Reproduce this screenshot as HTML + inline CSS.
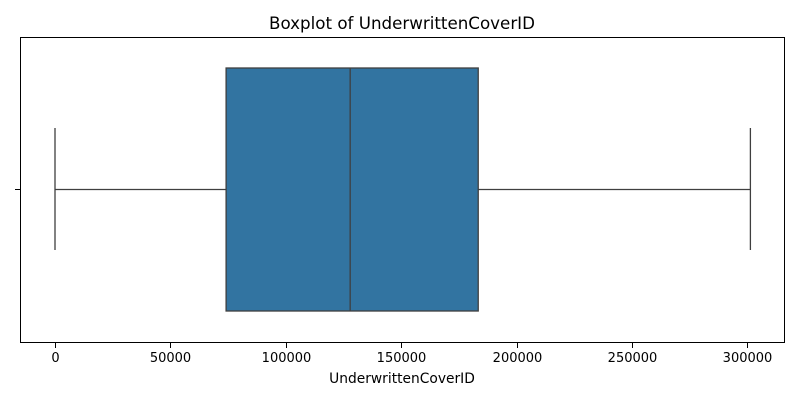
<!DOCTYPE html>
<html><head><meta charset="utf-8"><style>
body{margin:0;background:#fff;}
svg{display:block;font-family:"DejaVu Sans","Liberation Sans",sans-serif;}
</style></head><body>
<svg id="chart" width="800" height="400">
<rect width="800" height="400" fill="#fff"/>
<text x="402" y="29" font-size="16.7" text-anchor="middle">Boxplot of UnderwrittenCoverID</text>
<g id="marks"></g>
<rect x="20.5" y="37.5" width="764" height="305" fill="none" stroke="#000" stroke-width="1"/>
<line x1="15" y1="189.5" x2="20" y2="189.5" stroke="#000"/>
<g id="xaxis"></g>
<text x="402" y="383" font-size="13.8" text-anchor="middle">UnderwrittenCoverID</text>
</svg>
<script>
const stats = [0, 74130, 127890, 183380, 301300]; // min, q1, median, q3, max
const tickValues = [0, 50000, 100000, 150000, 200000, 250000, 300000];
const tickLabels = ["0", "50000", "100000", "150000", "200000", "250000", "300000"];

const ns = "http://www.w3.org/2000/svg";
function xs(v){ return 55 + v * (692.4 / 300000); }
function mk(tag, attrs, parent){
  const e = document.createElementNS(ns, tag);
  for (const k in attrs) e.setAttribute(k, attrs[k]);
  parent.appendChild(e); return e;
}
const marks = document.getElementById('marks');
const yc = 189.5, bt = 68, bb = 311, ct = 128, cb = 250, col = "#3f3f3f";
const wl = mk('line', {x1: xs(stats[0]), y1: yc, x2: xs(stats[1]), y2: yc, stroke: col, 'stroke-width': 1.3}, marks);


const wr = mk('line', {x1: xs(stats[3]), y1: yc, x2: xs(stats[4]), y2: yc, stroke: col, 'stroke-width': 1.3}, marks);


const cl = mk('line', {x1: xs(stats[0]), y1: ct, x2: xs(stats[0]), y2: cb, stroke: col, 'stroke-width': 1.3}, marks);


const cr = mk('line', {x1: xs(stats[4]), y1: ct, x2: xs(stats[4]), y2: cb, stroke: col, 'stroke-width': 1.3}, marks);


const box = mk('rect', {x: xs(stats[1]), y: bt, width: xs(stats[3]) - xs(stats[1]), height: bb - bt, fill: "#3274a1", stroke: col, 'stroke-width': 1.3}, marks);


const med = mk('line', {x1: xs(stats[2]), y1: bt, x2: xs(stats[2]), y2: bb, stroke: col, 'stroke-width': 1.3}, marks);



const xa = document.getElementById('xaxis');
tickValues.forEach((v, i) => {
  const x = Math.round(xs(v)) + 0.5;
  const t = mk('line', {x1: x, y1: 343, x2: x, y2: 348, stroke: "#000"}, xa);
  
  
  const l = mk('text', {x: x, y: 362, 'font-size': 13, 'text-anchor': 'middle'}, xa);
  l.textContent = tickLabels[i];
  
  
});
</script>
</body></html>
